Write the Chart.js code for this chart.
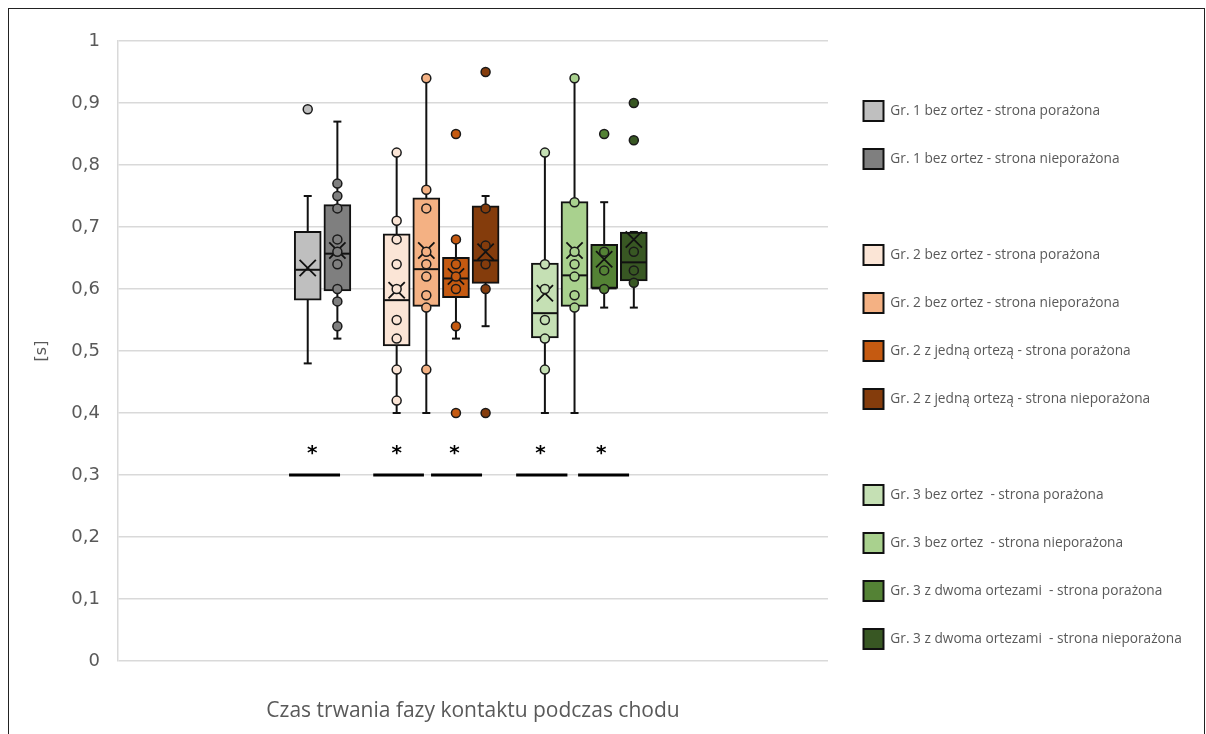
<!DOCTYPE html>
<html>
<head>
<meta charset="utf-8">
<script src="https://cdn.jsdelivr.net/npm/chart.js@4.4.1/dist/chart.umd.min.js"></script>
<style>
html, body { margin: 0; padding: 0; background: #fff; overflow: hidden; }
#wrap { position: relative; width: 1206px; height: 734px; }
#frame { position: absolute; left: 8px; top: 8px; width: 1195px; height: 760px; border: 1.5px solid #222; pointer-events: none; }
canvas { display: block; }
</style>
</head>
<body>
<div id="wrap">
  <canvas id="myChart" width="1206" height="734"></canvas>
  <div id="frame"></div>
</div>
<script>
// series (legend order), slot = position inside the category (2 and 7 are empty gaps)
var seriesNames = [
    "Gr. 1 bez ortez - strona porażona",
    "Gr. 1 bez ortez - strona nieporażona",
    "Gr. 2 bez ortez - strona porażona",
    "Gr. 2 bez ortez - strona nieporażona",
    "Gr. 2 z jedną ortezą - strona porażona",
    "Gr. 2 z jedną ortezą - strona nieporażona",
    "Gr. 3 bez ortez  - strona porażona",
    "Gr. 3 bez ortez  - strona nieporażona",
    "Gr. 3 z dwoma ortezami  - strona porażona",
    "Gr. 3 z dwoma ortezami  - strona nieporażona"
];
var slots = [0, 1, 3, 4, 5, 6, 8, 9, 10, 11];
var slotCount = 12;
var boxColors = ["#bfbfbf", "#7f7f7f", "#fbe5d6", "#f4b183", "#c55a11", "#843c0c", "#c5e0b4", "#a9d18e", "#548235", "#385723"];

// box plot statistics [s]
var whiskerLow  = [0.48, 0.52, 0.40, 0.40, 0.52, 0.54, 0.40, 0.40, 0.57, 0.57];
var quartile1   = [0.582, 0.597, 0.508, 0.572, 0.586, 0.609, 0.521, 0.572, 0.601, 0.613];
var medians     = [0.631, 0.657, 0.582, 0.632, 0.617, 0.646, 0.561, 0.622, 0.601, 0.643];
var quartile3   = [0.693, 0.736, 0.689, 0.747, 0.651, 0.734, 0.642, 0.741, 0.672, 0.692];
var whiskerHigh = [0.75, 0.87, 0.82, 0.94, 0.68, 0.75, 0.82, 0.94, 0.74, 0.692];
var means       = [0.634, 0.662, 0.598, 0.662, 0.62, 0.66, 0.593, 0.662, 0.648, 0.68];

// shown observations (inner points and outliers)
var pointValues = [
    [0.89],
    [0.77, 0.75, 0.73, 0.68, 0.66, 0.64, 0.60, 0.58, 0.54],
    [0.82, 0.71, 0.68, 0.64, 0.60, 0.55, 0.52, 0.47, 0.42],
    [0.94, 0.76, 0.73, 0.66, 0.64, 0.62, 0.59, 0.57, 0.47],
    [0.85, 0.68, 0.64, 0.62, 0.60, 0.54, 0.40],
    [0.95, 0.73, 0.67, 0.64, 0.60, 0.40],
    [0.82, 0.64, 0.60, 0.55, 0.52, 0.47],
    [0.94, 0.74, 0.66, 0.64, 0.62, 0.59, 0.57],
    [0.85, 0.66, 0.63, 0.60],
    [0.90, 0.84, 0.66, 0.63, 0.61]
];

// significance markers (slot units on x, value on y)
var sigStart = [-0.63, 2.21, 4.16, 7.03, 9.12];
var sigEnd   = [1.09, 3.92, 5.88, 8.76, 10.84];
var sigLevel = 0.3;
var starX = [0.15, 3.0, 4.95, 7.85, 9.9];
var starLevel = 0.34;

var yTickLabels = ["0", "0,1", "0,2", "0,3", "0,4", "0,5", "0,6", "0,7", "0,8", "0,9", "1"];
var categoryLabel = "Czas trwania fazy kontaktu podczas chodu";
var axisTitle = "[s]";

var textColor = "#595959";
var gridColor = "#d9d9d9";
var legendFontSize = 13.7;

// legend width -> right padding so the plot ends where the reference does
var measureCtx = document.createElement("canvas").getContext("2d");
measureCtx.font = legendFontSize + "px Open Sans";
var longest = 0;
seriesNames.forEach(function (t) { longest = Math.max(longest, measureCtx.measureText(t).width); });
var legendWidth = 28 + 20 + legendFontSize / 2 + longest;
var rightPad = Math.max(0, 1206 - 835.5 - legendWidth - 10);

var datasets = [];

// whiskers
seriesNames.forEach(function (name, i) {
    datasets.push({
        type: "line",
        data: [{ x: slots[i], y: whiskerLow[i] }, { x: slots[i], y: whiskerHigh[i] }],
        borderColor: "#111",
        borderWidth: 2,
        pointRadius: 0,
        order: 6
    });
});

// boxes (Q1..Q3)
seriesNames.forEach(function (name, i) {
    datasets.push({
        type: "bar",
        label: name,
        data: [{ x: slots[i], y: [quartile1[i], quartile3[i]] }],
        backgroundColor: boxColors[i],
        borderColor: "#111",
        borderWidth: 2,
        borderSkipped: false,
        barThickness: 27,
        grouped: false,
        order: 5
    });
});

// whisker caps
var caps = [];
seriesNames.forEach(function (name, i) {
    caps.push({ x: slots[i], y: whiskerLow[i] });
    caps.push({ x: slots[i], y: whiskerHigh[i] });
});
datasets.push({
    type: "scatter",
    data: caps,
    pointStyle: "line",
    pointRadius: 4,
    borderColor: "#111",
    borderWidth: 2,
    order: 4
});

// medians
datasets.push({
    type: "scatter",
    data: seriesNames.map(function (n, i) { return { x: slots[i], y: medians[i] }; }),
    pointStyle: "line",
    pointRadius: 12.5,
    borderColor: "#111",
    borderWidth: 2,
    order: 3
});

// means
datasets.push({
    type: "scatter",
    data: seriesNames.map(function (n, i) { return { x: slots[i], y: means[i] }; }),
    pointStyle: "crossRot",
    pointRadius: 11.5,
    borderColor: "#111",
    borderWidth: 1.8,
    order: 3
});

// observations
seriesNames.forEach(function (name, i) {
    datasets.push({
        type: "scatter",
        data: pointValues[i].map(function (v) { return { x: slots[i], y: v }; }),
        pointStyle: "circle",
        pointRadius: 4.5,
        backgroundColor: boxColors[i],
        borderColor: "#1a1a1a",
        borderWidth: 1.5,
        order: 2
    });
});

// significance lines
sigStart.forEach(function (s, i) {
    datasets.push({
        type: "line",
        data: [{ x: s, y: sigLevel }, { x: sigEnd[i], y: sigLevel }],
        borderColor: "#000",
        borderWidth: 3,
        pointRadius: 0,
        order: 1
    });
});

// asterisks above the significance lines
var starPlugin = {
    id: "stars",
    afterDatasetsDraw: function (chart) {
        var ctx = chart.ctx;
        var x = chart.scales.x, y = chart.scales.y;
        ctx.save();
        ctx.font = "bold 20px DejaVu Sans";
        ctx.fillStyle = "#000";
        ctx.textAlign = "center";
        ctx.textBaseline = "alphabetic";
        var m = ctx.measureText("*");
        var shift = (m.actualBoundingBoxAscent - m.actualBoundingBoxDescent) / 2;
        starX.forEach(function (v) {
            ctx.fillText("*", x.getPixelForValue(v), y.getPixelForValue(starLevel) + shift);
        });
        ctx.restore();
    }
};

var canvas = document.getElementById("myChart");
var myChart = new Chart(canvas, {
    type: "bar",
    data: { datasets: datasets },
    plugins: [starPlugin],
    options: {
        responsive: false,
        animation: false,
        events: [],
        layout: { padding: { left: 32, top: 41, right: rightPad, bottom: 0 } },
        scales: {
            x: {
                type: "linear",
                min: -6.4,
                max: 17.55,
                offset: false,
                grid: { display: false },
                border: { display: false },
                ticks: { display: false },
                title: {
                    display: true,
                    text: categoryLabel,
                    color: textColor,
                    font: { family: "Open Sans", size: 21 },
                    padding: { top: 0, bottom: 10 }
                },
                afterFit: function (s) { s.height = 73; }
            },
            y: {
                min: 0,
                max: 1,
                ticks: {
                    stepSize: 0.1,
                    color: textColor,
                    padding: 18,
                    font: { family: "DejaVu Sans", size: 18 },
                    callback: function (v, i) { return yTickLabels[i]; }
                },
                grid: { color: gridColor, lineWidth: 1.5, drawTicks: false },
                border: { color: gridColor, width: 1.5 },
                title: {
                    display: true,
                    text: axisTitle,
                    color: textColor,
                    font: { family: "DejaVu Sans", size: 16 },
                    padding: { top: 0, bottom: 0 }
                },
                afterFit: function (s) { s.width = 86; }
            },
            y2: {
                position: "right",
                min: 0,
                max: 1,
                grid: { display: false },
                border: { display: false },
                ticks: { display: false },
                afterFit: function (s) { s.width = 7.5; }
            }
        },
        plugins: {
            tooltip: { enabled: false },
            legend: {
                position: "right",
                align: "start",
                maxWidth: 600,
                onClick: null,
                title: { display: true, text: "", font: { size: 10 }, padding: { top: 20, bottom: 0 } },
                labels: {
                    boxWidth: 20,
                    boxHeight: 20,
                    padding: 28,
                    color: textColor,
                    font: { family: "Open Sans", size: legendFontSize },
                    generateLabels: function () {
                        var items = [];
                        for (var s = 0; s < slotCount; s++) {
                            var i = slots.indexOf(s);
                            if (i < 0) {
                                items.push({ text: "", fillStyle: "rgba(0,0,0,0)", strokeStyle: "rgba(0,0,0,0)", lineWidth: 0, hidden: false });
                            } else {
                                items.push({ text: seriesNames[i], fillStyle: boxColors[i], strokeStyle: "#111", lineWidth: 2, hidden: false, fontColor: textColor });
                            }
                        }
                        return items;
                    }
                }
            }
        }
    }
});
</script>
</body>
</html>
